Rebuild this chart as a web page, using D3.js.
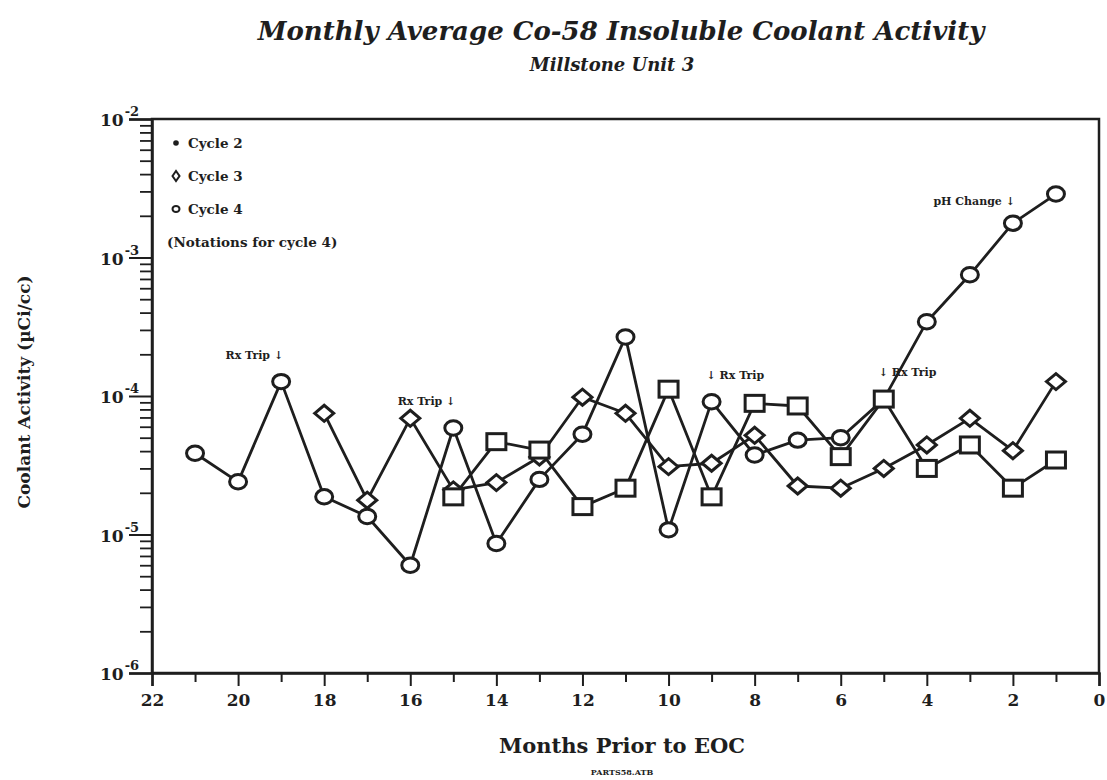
<!DOCTYPE html>
<html>
<head>
<meta charset="utf-8">
<script src="https://cdn.jsdelivr.net/npm/d3@7"></script>
<style>
  html, body { margin: 0; padding: 0; background: #ffffff; }
  svg { display: block; }
  text { font-family: "DejaVu Serif", "Liberation Serif", serif; fill: #1e1e1e; }
</style>
</head>
<body>
<svg id="chart" width="1107" height="780"></svg>
<script>
// ---------------- data ----------------
const cycle2Months = [15, 14, 13, 12, 11, 10, 9, 8, 7, 6, 5, 4, 3, 2, 1];
const cycle2Values = [1.87e-5, 4.68e-5, 4.07e-5, 1.59e-5, 2.16e-5, 1.12e-4, 1.87e-5, 8.85e-5, 8.47e-5, 3.65e-5, 9.5e-5, 3.0e-5, 4.43e-5, 2.16e-5, 3.45e-5];

const cycle3Months = [18, 17, 16, 15, 14, 13, 12, 11, 10, 9, 8, 7, 6, 5, 4, 3, 2, 1];
const cycle3Values = [7.5e-5, 1.77e-5, 6.9e-5, 2.1e-5, 2.37e-5, 3.63e-5, 9.8e-5, 7.5e-5, 3.09e-5, 3.27e-5, 5.2e-5, 2.24e-5, 2.16e-5, 3.0e-5, 4.43e-5, 6.9e-5, 4.03e-5, 1.27e-4];

const cycle4Months = [21, 20, 19, 18, 17, 16, 15, 14, 13, 12, 11, 10, 9, 8, 7, 6, 5, 4, 3, 2, 1];
const cycle4Values = [3.86e-5, 2.40e-5, 1.27e-4, 1.87e-5, 1.35e-5, 6.0e-6, 5.87e-5, 8.6e-6, 2.5e-5, 5.3e-5, 2.67e-4, 1.08e-5, 9.1e-5, 3.75e-5, 4.8e-5, 5.0e-5, 9.5e-5, 3.44e-4, 7.5e-4, 1.77e-3, 2.87e-3];

const xMajorTicks = [22, 20, 18, 16, 14, 12, 10, 8, 6, 4, 2, 0];
const xMinorTicks = [21, 19, 17, 15, 13, 11, 9, 7, 5, 3, 1];
const yMajorTicks = [1e-2, 1e-3, 1e-4, 1e-5, 1e-6];
const yTickExponents = ["-2", "-3", "-4", "-5", "-6"];

const legendLabels = ["Cycle 2", "Cycle 3", "Cycle 4", "(Notations for cycle 4)"];

const annotMonths = [19, 15, 9, 5, 2];
const annotTexts = ["Rx Trip \u2193", "Rx Trip \u2193", "\u2193 Rx Trip", "\u2193 Rx Trip", "pH Change \u2193"];
const annotArrowFirst = [false, false, true, true, false];

const titleText = "Monthly Average Co-58 Insoluble Coolant Activity";
const subtitleText = "Millstone Unit 3";
const xLabelText = "Months Prior to EOC";
const yLabelText = "Coolant Activity (\u00b5Ci/cc)";
const footText = "PARTS58.ATB";

// ---------------- layout ----------------
const ink = "#1e1e1e";
const plotL = 152, plotR = 1099, plotT = 119, plotB = 673;

const svg = d3.select("#chart");
const x = d3.scaleLinear().domain([22, 0]).range([plotL, plotR]);
const y = d3.scaleLog().domain([1e-6, 1e-2]).range([plotB, plotT]);

// titles
svg.append("text").attr("x", 621).attr("y", 40).attr("text-anchor", "middle")
  .style("font-size", "26px").style("font-weight", "bold").style("font-style", "italic")
  .text(titleText);
svg.append("text").attr("x", 612).attr("y", 71).attr("text-anchor", "middle")
  .style("font-size", "18px").style("font-weight", "bold").style("font-style", "italic")
  .text(subtitleText);

// frame
svg.append("rect").attr("x", plotL).attr("y", plotT)
  .attr("width", plotR - plotL).attr("height", plotB - plotT)
  .attr("fill", "none").attr("stroke", ink).attr("stroke-width", 2.5);

// x axis
const xAxis = d3.axisBottom(x).tickValues(xMajorTicks).tickSize(13).tickPadding(8)
  .tickFormat(d3.format("d"));
const gx = svg.append("g").attr("transform", `translate(0,${plotB})`).call(xAxis);
gx.select(".domain").attr("stroke", ink).attr("stroke-width", 2.5);
gx.selectAll(".tick line").attr("stroke", ink).attr("stroke-width", 2);
gx.selectAll(".tick text").style("font-family", "DejaVu Serif, serif")
  .style("font-size", "17px").style("font-weight", "bold").attr("fill", ink);
const xAxisMinor = d3.axisBottom(x).tickValues(xMinorTicks).tickSize(9).tickFormat("");
const gxm = svg.append("g").attr("transform", `translate(0,${plotB})`).call(xAxisMinor);
gxm.select(".domain").remove();
gxm.selectAll(".tick line").attr("stroke", ink).attr("stroke-width", 2);

// y axis
const yAxis = d3.axisLeft(y).tickValues(yMajorTicks).tickSize(23).tickFormat("");
const gy = svg.append("g").attr("transform", `translate(${plotL},0)`).call(yAxis);
gy.select(".domain").attr("stroke", ink).attr("stroke-width", 2.5);
gy.selectAll(".tick line").attr("stroke", ink).attr("stroke-width", 2);

const yMinor = [];
yMajorTicks.slice(1).forEach(d => { for (let k = 2; k <= 9; k++) yMinor.push(d * k); });
const yAxisMinor = d3.axisLeft(y).tickValues(yMinor).tickSize(12).tickFormat("");
const gym = svg.append("g").attr("transform", `translate(${plotL},0)`).call(yAxisMinor);
gym.select(".domain").remove();
gym.selectAll(".tick line").attr("stroke", ink).attr("stroke-width", 1.8);

// y tick labels with superscripts
yMajorTicks.forEach((d, i) => {
  const t = svg.append("text").attr("x", 100).attr("y", y(d) + 7)
    .style("font-size", "17px").style("font-weight", "bold");
  t.append("tspan").text("10");
  t.append("tspan").attr("dy", -10).attr("dx", 1).style("font-size", "13px").text(yTickExponents[i]);
});

// axis labels
svg.append("text").attr("x", 622).attr("y", 753).attr("text-anchor", "middle")
  .style("font-size", "21px").style("font-weight", "bold").text(xLabelText);
svg.append("text").attr("x", 622).attr("y", 775).attr("text-anchor", "middle")
  .style("font-size", "8px").style("font-weight", "bold").text(footText);
svg.append("text").attr("transform", `translate(30,392) rotate(-90)`).attr("text-anchor", "middle")
  .style("font-size", "17px").style("font-weight", "bold").text(yLabelText);

// ---------------- series ----------------
const line = d3.line().x(d => x(d.m)).y(d => y(d.v));
function series(months, values) { return months.map((m, i) => ({ m: m, v: values[i] })); }
const s2 = series(cycle2Months, cycle2Values);
const s3 = series(cycle3Months, cycle3Values);
const s4 = series(cycle4Months, cycle4Values);

[s4, s3, s2].forEach(s => {
  svg.append("path").datum(s).attr("d", line)
    .attr("fill", "none").attr("stroke", ink).attr("stroke-width", 2.8)
    .attr("stroke-linejoin", "round");
});

function drawCircle(g, cx, cy, r) {
  g.append("ellipse").attr("cx", cx).attr("cy", cy).attr("rx", r).attr("ry", r * 0.85)
    .attr("fill", "#fff").attr("stroke", ink).attr("stroke-width", 3);
}
function drawDiamond(g, cx, cy, w, h) {
  g.append("path").attr("d", `M${cx - w / 2},${cy}L${cx},${cy - h / 2}L${cx + w / 2},${cy}L${cx},${cy + h / 2}Z`)
    .attr("fill", "#fff").attr("stroke", ink).attr("stroke-width", 3);
}
function drawSquare(g, cx, cy, w, h) {
  g.append("rect").attr("x", cx - w / 2).attr("y", cy - h / 2).attr("width", w).attr("height", h)
    .attr("fill", "#fff").attr("stroke", ink).attr("stroke-width", 3);
}

const gm = svg.append("g");
s4.forEach(d => drawCircle(gm, x(d.m), y(d.v), 8.5));
s3.forEach(d => drawDiamond(gm, x(d.m), y(d.v), 19, 16));
s2.forEach(d => drawSquare(gm, x(d.m), y(d.v), 19, 16));

// ---------------- annotations ----------------
annotMonths.forEach((m, i) => {
  const idx = cycle4Months.indexOf(m);
  const px = x(m), py = y(cycle4Values[idx]);
  const dyOff = (m === 2) ? -18 : -23;
  svg.append("text")
    .attr("x", annotArrowFirst[i] ? px - 5 : px + 2)
    .attr("y", py + dyOff)
    .attr("text-anchor", annotArrowFirst[i] ? "start" : "end")
    .style("font-size", "11px").style("font-weight", "bold")
    .text(annotTexts[i]);
});

// ---------------- legend ----------------
const legX = 176, legY0 = 143, legStep = 33;
const lg = svg.append("g");
lg.append("circle").attr("cx", legX).attr("cy", legY0).attr("r", 2.8).attr("fill", ink);
drawDiamond(lg, legX, legY0 + legStep, 7, 10);
lg.selectAll("path").attr("stroke-width", 2);
lg.append("ellipse").attr("cx", legX).attr("cy", legY0 + 2 * legStep).attr("rx", 3.5).attr("ry", 3)
  .attr("fill", "#fff").attr("stroke", ink).attr("stroke-width", 2);
legendLabels.forEach((t, i) => {
  lg.append("text").attr("x", i < 3 ? legX + 12 : legX - 9).attr("y", legY0 + i * legStep + 5)
    .style("font-size", "13.5px").style("font-weight", "bold").text(t);
});
</script>
</body>
</html>
